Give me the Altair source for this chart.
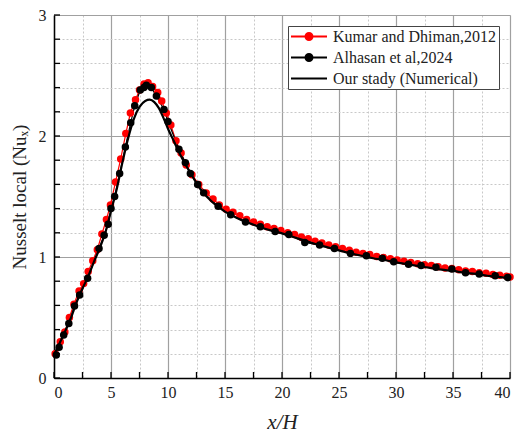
import altair as alt
import pandas as pd

# ---------------- data ----------------
kumar_x = [0.1, 0.55, 0.95, 1.35, 1.75, 2.2, 2.6, 3.0, 3.4, 3.8, 4.2, 4.6, 4.95, 5.4, 5.85,
           6.3, 6.7, 7.15, 7.5, 7.9, 8.25, 8.65, 9.1, 9.45, 9.85, 10.25, 10.7, 11.15, 11.6,
           12.1, 12.7, 13.35, 13.95, 14.5, 15.1, 15.7, 16.3, 16.9, 17.5, 18.1, 18.7, 19.3,
           19.9, 20.5, 21.1, 21.7, 22.3, 22.9, 23.5, 24.1, 24.7, 25.3, 25.9, 26.5, 27.1,
           27.7, 28.3, 28.9, 29.5, 30.1, 30.7, 31.3, 31.9, 32.5, 33.1, 33.7, 34.3, 34.9,
           35.5, 36.1, 36.7, 37.3, 37.9, 38.5, 39.1, 39.7, 40.0]
kumar_y = [0.20, 0.30, 0.38, 0.50, 0.61, 0.72, 0.78, 0.88, 0.97, 1.06, 1.19, 1.31, 1.43, 1.62, 1.81,
           2.02, 2.19, 2.30, 2.38, 2.43, 2.44, 2.41, 2.36, 2.29, 2.19, 2.09, 1.96, 1.86, 1.76,
           1.68, 1.60, 1.53, 1.48, 1.43, 1.395, 1.37, 1.34, 1.31, 1.29, 1.27, 1.25, 1.235,
           1.22, 1.20, 1.185, 1.165, 1.15, 1.13, 1.115, 1.10, 1.085, 1.07, 1.055, 1.04, 1.03,
           1.02, 1.005, 0.995, 0.985, 0.975, 0.965, 0.955, 0.945, 0.935, 0.93, 0.92, 0.91, 0.905,
           0.895, 0.885, 0.88, 0.87, 0.865, 0.855, 0.85, 0.84, 0.835]

alhasan_x = [0.2, 0.45, 0.85, 1.3, 1.8, 2.25, 2.95, 3.95, 4.4, 4.75, 5.0, 5.32, 5.76, 6.26, 6.73,
             7.08, 7.57, 7.89, 8.1, 8.54, 8.98, 9.65, 10.0, 10.96, 11.52, 11.96, 12.6, 13.13,
             14.4, 15.5, 16.8, 18.1, 19.4, 20.6, 22.0, 23.3, 24.6, 26.0, 27.4, 28.8, 29.8,
             31.1, 32.2, 33.5, 34.9, 36.1, 37.3, 38.7, 39.8]
alhasan_y = [0.19, 0.255, 0.355, 0.45, 0.595, 0.685, 0.825, 1.07, 1.18, 1.27, 1.40, 1.50, 1.69, 1.91, 2.11,
             2.25, 2.38, 2.40, 2.42, 2.40, 2.33, 2.22, 2.12, 1.89, 1.78, 1.69, 1.60, 1.53,
             1.42, 1.35, 1.29, 1.25, 1.21, 1.185, 1.12, 1.10, 1.07, 1.03, 1.01, 0.99, 0.96,
             0.94, 0.93, 0.915, 0.90, 0.87, 0.86, 0.846, 0.83]

ours_x = [0, 0.5, 1.0, 1.5, 2.0, 2.5, 3.0, 3.5, 4.0, 4.5, 5.0, 5.5, 6.0, 6.5, 7.0, 7.5, 8.0, 8.4,
          8.8, 9.2, 9.6, 10.0, 10.5, 11.0, 11.5, 12.0, 12.5, 13.0, 13.5, 14.0, 15.0, 16.0, 17.0,
          18.0, 19.0, 20.0, 21.0, 22.0, 23.0, 24.0, 25.0, 26.0, 27.0, 28.0, 29.0, 30.0, 31.0,
          32.0, 33.0, 34.0, 35.0, 36.0, 37.0, 38.0, 39.0, 40.0]
ours_y = [0.19, 0.29, 0.39, 0.50, 0.63, 0.74, 0.84, 0.96, 1.07, 1.20, 1.38, 1.56, 1.78, 1.98, 2.14, 2.24, 2.29, 2.30,
          2.28, 2.23, 2.15, 2.06, 1.96, 1.86, 1.77, 1.69, 1.61, 1.54, 1.49, 1.445, 1.375, 1.325, 1.285,
          1.25, 1.22, 1.195, 1.165, 1.135, 1.105, 1.08, 1.055, 1.03, 1.01, 0.99, 0.975, 0.955, 0.94,
          0.925, 0.91, 0.895, 0.885, 0.87, 0.86, 0.845, 0.835, 0.825]

series_names = ["Kumar and Dhiman,2012", "Alhasan et al,2024", "Our stady (Numerical)"]
series_colors = ["#ff0000", "#000000", "#000000"]

x_major = [0, 5, 10, 15, 20, 25, 30, 35, 40]
x_minor = [2.5, 7.5, 12.5, 17.5, 22.5, 27.5, 32.5, 37.5]
y_major = [0, 1, 2, 3]
y_minor = [0.2, 0.4, 0.6, 0.8, 1.2, 1.4, 1.6, 1.8, 2.2, 2.4, 2.6, 2.8]
x_ticks = x_major + x_minor
y_ticks = y_major + y_minor

# ---------------- tables ----------------
df = pd.concat([
    pd.DataFrame({"x": kumar_x, "y": kumar_y, "s": series_names[0], "o": range(len(kumar_x))}),
    pd.DataFrame({"x": alhasan_x, "y": alhasan_y, "s": series_names[1], "o": range(len(alhasan_x))}),
    pd.DataFrame({"x": ours_x, "y": ours_y, "s": series_names[2], "o": range(len(ours_x))}),
], ignore_index=True)

FONT = "Liberation Serif"
W, H = 456, 363

xs = alt.Scale(domain=[0, 40], nice=False, zero=False)
ys = alt.Scale(domain=[0, 3], nice=False, zero=False)
# colour scale for the plotted marks (domain order differs from the legend scales on purpose)
cs = alt.Scale(domain=series_names[::-1], range=series_colors[::-1])

minor_x_axis = alt.Axis(orient="bottom", values=x_minor, grid=True, gridColor="#c8c8c8", gridDash=[2, 2],
                        gridWidth=1, labels=False, ticks=False, domain=False, title=None)
minor_y_axis = alt.Axis(orient="left", values=y_minor, grid=True, gridColor="#c8c8c8", gridDash=[2, 2],
                        gridWidth=1, labels=False, ticks=False, domain=False, title=None)
major_x_axis = alt.Axis(orient="bottom", values=x_major, grid=True, gridColor="#a0a0a0", gridWidth=1.2,
                        labelFont=FONT, labelFontSize=16, labelColor="#222", labelPadding=6,
                        ticks=False, domain=True, domainColor="#000", domainWidth=1.5,
                        title="x/H", titleFont=FONT, titleFontSize=21, titleFontStyle="italic",
                        titleFontWeight="normal", titleColor="#222", titlePadding=11)
major_y_axis = alt.Axis(orient="left", values=y_major, grid=True, gridColor="#a0a0a0", gridWidth=1.2,
                        labelFont=FONT, labelFontSize=16, labelColor="#222", labelPadding=8,
                        ticks=False, domain=True, domainColor="#000", domainWidth=1.5,
                        title="Nusselt local (Nuₓ)", titleFont=FONT, titleFontSize=19,
                        titleFontWeight="normal", titleColor="#222", titlePadding=9)

base = alt.Chart(df)

minor_layer = base.transform_filter(alt.datum.s == series_names[2]).mark_point(opacity=0).encode(
    x=alt.X("x:Q", scale=xs, axis=minor_x_axis),
    y=alt.Y("y:Q", scale=ys, axis=minor_y_axis),
)

lines_pts = base.transform_filter(alt.datum.s != series_names[2]).mark_line(strokeWidth=1.2).encode(
    x=alt.X("x:Q", scale=xs, axis=major_x_axis),
    y=alt.Y("y:Q", scale=ys, axis=major_y_axis),
    color=alt.Color("s:N", scale=cs, legend=None),
    detail="s:N",
    order="o:Q",
)
circles = base.transform_filter(alt.datum.s != series_names[2]).mark_circle(size=56, opacity=1).encode(
    x=alt.X("x:Q", scale=xs, axis=None),
    y=alt.Y("y:Q", scale=ys, axis=None),
    color=alt.Color("s:N", scale=cs, legend=None),
)
ours_line = base.transform_filter(alt.datum.s == series_names[2]).mark_line(
    strokeWidth=2.2, interpolate="monotone").encode(
    x=alt.X("x:Q", scale=xs, axis=None),
    y=alt.Y("y:Q", scale=ys, axis=None),
    color=alt.Color("s:N", scale=cs, legend=None),
    order="o:Q",
)

# inward ticks
ytick_df = pd.DataFrame({"v": y_ticks})
xtick_df = pd.DataFrame({"v": x_ticks})
ytick_layer = alt.Chart(ytick_df).mark_rule(color="#000", strokeWidth=1.3).encode(
    y=alt.Y("v:Q", scale=ys, axis=None),
    x=alt.value(0),
    x2=alt.value(6),
)
xtick_layer = alt.Chart(xtick_df).mark_rule(color="#000", strokeWidth=1.3).encode(
    x=alt.X("v:Q", scale=xs, axis=None),
    y=alt.value(H),
    y2=alt.value(H - 6),
)

# legend-carrier layer: one mark per series, pushed outside the clipped view
circle_path = "M-1,0L1,0M0.2,0A0.2,0.2,0,1,1,-0.2,0A0.2,0.2,0,1,1,0.2,0Z"
line_path = "M-1,0L1,0"
leg = dict(title=None, orient="top-right", offset=11, fillColor="#ffffff", strokeColor="#444",
           padding=2, labelFont=FONT, labelFontSize=16, labelColor="#222", symbolSize=1296,
           symbolStrokeWidth=1.8, rowPadding=4, labelOffset=5, labelLimit=0, clipHeight=17)
legend_layer = base.transform_filter(alt.datum.o == 0).transform_calculate(
    yy="datum.y + 10"
).mark_point(filled=True, opacity=1, clip=True).encode(
    x=alt.X("x:Q", scale=xs, axis=None),
    y=alt.Y("yy:Q", scale=ys, axis=None),
    fill=alt.Fill("s:N", scale=alt.Scale(domain=series_names, range=series_colors),
                  legend=alt.Legend(**leg)),
    stroke=alt.Stroke("s:N", scale=alt.Scale(domain=series_names, range=series_colors),
                      legend=alt.Legend(**leg)),
    shape=alt.Shape("s:N", scale=alt.Scale(domain=series_names, range=[circle_path, circle_path, line_path]),
                    legend=alt.Legend(**leg)),
)

chart = alt.layer(minor_layer, lines_pts, circles, ours_line, ytick_layer, xtick_layer, legend_layer).resolve_axis(
    x="independent", y="independent"
).properties(
    width=W, height=H,
    autosize=alt.AutoSizeParams(type="none"),
    padding={"left": 54, "top": 15, "right": 20, "bottom": 57},
).configure_view(
    stroke="#000", strokeWidth=1.5
).configure_legend(
    orient="top-right", offset=11, strokeWidth=1.5
).configure(background="white")

chart.save("out.html", embed_options={"renderer": "svg", "actions": False})
